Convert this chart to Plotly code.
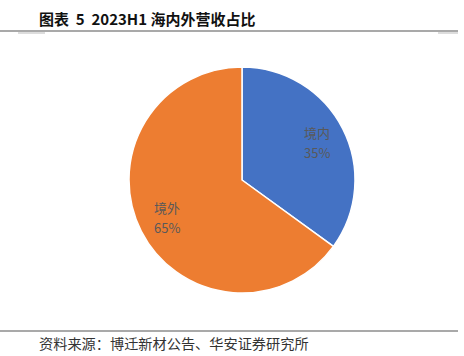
import math
import plotly.graph_objects as go

labels = ["境内", "境外"]
values = [35, 65]
colors = ["#4472C4", "#ED7D31"]

W, H = 464, 356
cx, cy, r = 242, 180, 113

fig = go.Figure(go.Pie(
    labels=labels, values=values, sort=False, direction="clockwise", rotation=0,
    marker=dict(colors=colors, line=dict(color="white", width=1.5)),
    textinfo="none",
    domain=dict(x=[(cx - r) / W, (cx + r) / W], y=[1 - (cy + r) / H, 1 - (cy - r) / H]),
    showlegend=False, hoverinfo="skip",
))

# data labels placed along each slice's mid-angle (name line + percent line)
total = sum(values)
annotations = []
cum = 0
lab_font = dict(family="Noto Sans CJK SC", size=13, color="#595959")
for lab, v in zip(labels, values):
    mid = (cum + v / 2) / total * 2 * math.pi
    cum += v
    rr = 0.74 * r
    px = cx + rr * math.sin(mid)
    py = cy - rr * math.cos(mid)
    annotations.append(dict(
        text=lab, xref="paper", yref="paper", x=px / W, y=1 - (py - 10) / H,
        xanchor="center", yanchor="middle", showarrow=False, font=lab_font))
    annotations.append(dict(
        text=f"{round(v / total * 100)}%", xref="paper", yref="paper", x=px / W, y=1 - (py + 10) / H,
        xanchor="center", yanchor="middle", showarrow=False, font=lab_font))

annotations += [
    dict(text="<b>图表  5  2023H1 海内外营收占比</b>", xref="paper", yref="paper",
         x=37 / W, y=1 - 19 / H, xanchor="left", yanchor="middle", showarrow=False,
         font=dict(family="Noto Sans CJK SC", size=15, color="#111111")),
    dict(text="资料来源：博迁新材公告、华安证券研究所", xref="paper", yref="paper",
         x=37 / W, y=1 - 343 / H, xanchor="left", yanchor="middle", showarrow=False,
         font=dict(family="Noto Sans CJK SC", size=14.2, color="#333333")),
]

fig.update_layout(
    width=W, height=H, margin=dict(l=0, r=0, t=0, b=0),
    paper_bgcolor="white", plot_bgcolor="white",
    shapes=[
        dict(type="line", xref="paper", yref="paper", x0=0, x1=458 / W, y0=1 - 31 / H, y1=1 - 31 / H,
             line=dict(color="#555555", width=1.2)),
        dict(type="line", xref="paper", yref="paper", x0=18 / W, x1=45 / W, y0=1 - 33 / H, y1=1 - 33 / H,
             line=dict(color="#bbbbbb", width=1)),
        dict(type="line", xref="paper", yref="paper", x0=438 / W, x1=458 / W, y0=1 - 33 / H, y1=1 - 33 / H,
             line=dict(color="#bbbbbb", width=1)),
        dict(type="line", xref="paper", yref="paper", x0=0, x1=458 / W, y0=1 - 331 / H, y1=1 - 331 / H,
             line=dict(color="#555555", width=1.2)),
    ],
    annotations=annotations,
)

fig.write_html("out.html")
